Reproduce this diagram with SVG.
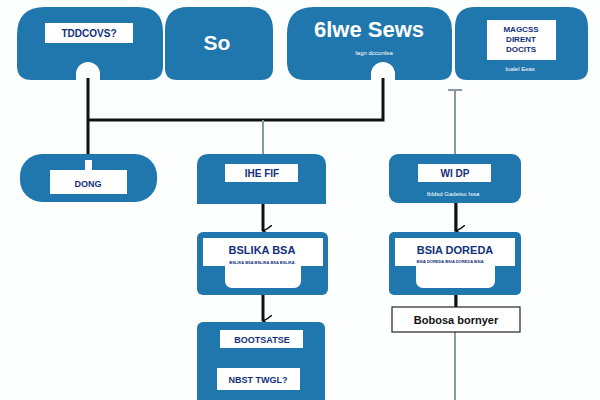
<svg xmlns="http://www.w3.org/2000/svg" width="600" height="400" viewBox="0 0 600 400">
<defs>
<style>
.n{fill:#1f77ae}
.lb{fill:#fff}
.t{font-family:"Liberation Sans",Arial,sans-serif;font-weight:bold;fill:#12307a;text-anchor:middle}
.w{font-family:"Liberation Sans",Arial,sans-serif;fill:#fff;text-anchor:middle}
.k{stroke:#111;stroke-width:3;fill:none}
.g{stroke:#8a9aa3;stroke-width:2;fill:none}
</style>
<marker id="ah" viewBox="0 0 12 10" refX="6" refY="9" markerWidth="12" markerHeight="10" orient="auto" markerUnits="userSpaceOnUse">
<path d="M0,0 Q4,4 6,9 Q8,4 12,0" fill="none" stroke="#111" stroke-width="1.5"/>
</marker>
</defs>
<rect width="600" height="400" fill="#fdfefe"/>
<g id="connectors">
<path class="k" d="M88,78 V160"/>
<path class="k" d="M88,120 H383 V78"/>
<path class="g" d="M263,120 V155"/>
<path class="g" d="M455,90 V400"/>
<path class="g" d="M448,90 H462"/>
<path class="k" d="M263,199 V231" marker-end="url(#ah)"/>
<path class="k" d="M263,292 V321" marker-end="url(#ah)"/>
<path class="k" d="M456,199 V231" marker-end="url(#ah)"/>
<path class="k" d="M456,292 V308"/>
</g>
<g id="node1">
<path class="n" d="M45,7 H138 Q163,7 163,32 V66 Q163,80 149,80 H100 V74 A12,12 0 0 0 76,74 V80 H32 Q17,80 17,66 V35 Q17,7 45,7 Z"/>
<rect class="lb" x="45" y="23" width="88" height="20"/>
<text class="t" x="89" y="37" font-size="10">TDDCOVS?</text>
</g>
<g id="node2">
<path class="n" d="M188,7 H250 Q273,7 273,30 V68 Q273,80 261,80 H177 Q165,80 165,68 V30 Q165,7 188,7 Z"/>
<text class="w" x="217" y="50" font-size="21" font-weight="bold">So</text>
</g>
<g id="node3">
<path class="n" d="M314,7 H428 Q452,7 452,31 V68 Q452,80 440,80 H395 V74 A12,12 0 0 0 371,74 V80 H305 Q287,80 287,62 V34 Q287,7 314,7 Z"/>
<text class="w" x="369" y="37" font-size="22" font-weight="bold">6lwe Sews</text>
<text class="w" x="374" y="55" font-size="6">Iagn dcconfea</text>
</g>
<g id="node4">
<path class="n" d="M475,7 H568 Q588,7 588,27 V68 Q588,80 576,80 H467 Q455,80 455,68 V27 Q455,7 475,7 Z"/>
<rect class="lb" x="487" y="20" width="69" height="40"/>
<text class="t" x="521" y="32" font-size="8">MAGCSS</text>
<text class="t" x="521" y="42" font-size="8">DIRENT</text>
<text class="t" x="521" y="52" font-size="8">DOCITS</text>
<text class="w" x="520" y="71" font-size="6">Ioalel Eeas</text>
</g>
<g id="node5">
<rect class="n" x="20" y="154" width="137" height="48" rx="22"/>
<rect class="lb" x="50" y="170" width="77" height="24"/>
<rect class="lb" x="85" y="160" width="7" height="10"/>
<text class="t" x="88" y="187" font-size="9">DONG</text>
</g>
<g id="node6">
<path class="n" d="M209,154 H314 Q326,154 326,166 V204 H197 V166 Q197,154 209,154 Z"/>
<rect class="lb" x="225" y="164" width="73" height="18"/>
<text class="t" x="262" y="177" font-size="10">IHE FIF</text>
</g>
<g id="node7">
<rect class="n" x="197" y="232" width="131" height="63" rx="6"/>
<rect class="lb" x="225" y="255" width="76" height="33" rx="7"/>
<rect class="lb" x="203" y="238" width="120" height="28"/>
<text class="t" x="262" y="254" font-size="11">BSLIKA BSA</text>
<text class="t" x="262" y="264" font-size="4">BSLIKA BSA BSLIKA BSA BSLIKA</text>
</g>
<g id="node8">
<rect class="n" x="197" y="322" width="128" height="90" rx="6"/>
<rect class="lb" x="220" y="330" width="83" height="18"/>
<text class="t" x="262" y="343" font-size="9">BOOTSATSE</text>
<rect class="lb" x="217" y="368" width="83" height="22"/>
<text class="t" x="258" y="383" font-size="9">NBST TWGL?</text>
</g>
<g id="node9">
<rect class="n" x="389" y="154" width="132" height="49" rx="9"/>
<rect class="lb" x="418" y="164" width="73" height="18"/>
<text class="t" x="455" y="177" font-size="10">WI DP</text>
<text class="w" x="453" y="196" font-size="6">Ibldsd Gadeiso Issa</text>
</g>
<g id="node10">
<rect class="n" x="389" y="232" width="132" height="63" rx="5"/>
<rect class="lb" x="416" y="258" width="79" height="30" rx="7"/>
<rect class="lb" x="395" y="238" width="120" height="28"/>
<text class="t" x="455" y="254" font-size="11">BSIA DOREDA</text>
<text class="t" x="450" y="263" font-size="4">BSIA DOREDA BSIA DOREDA BSIA</text>
</g>
<g id="node11">
<rect x="392" y="307" width="128" height="25" fill="#fff" stroke="#222" stroke-width="1.2"/>
<text x="456" y="324" font-size="11" font-weight="bold" font-family="'Liberation Sans',Arial,sans-serif" fill="#111" text-anchor="middle">Bobosa bornyer</text>
</g>
</svg>
